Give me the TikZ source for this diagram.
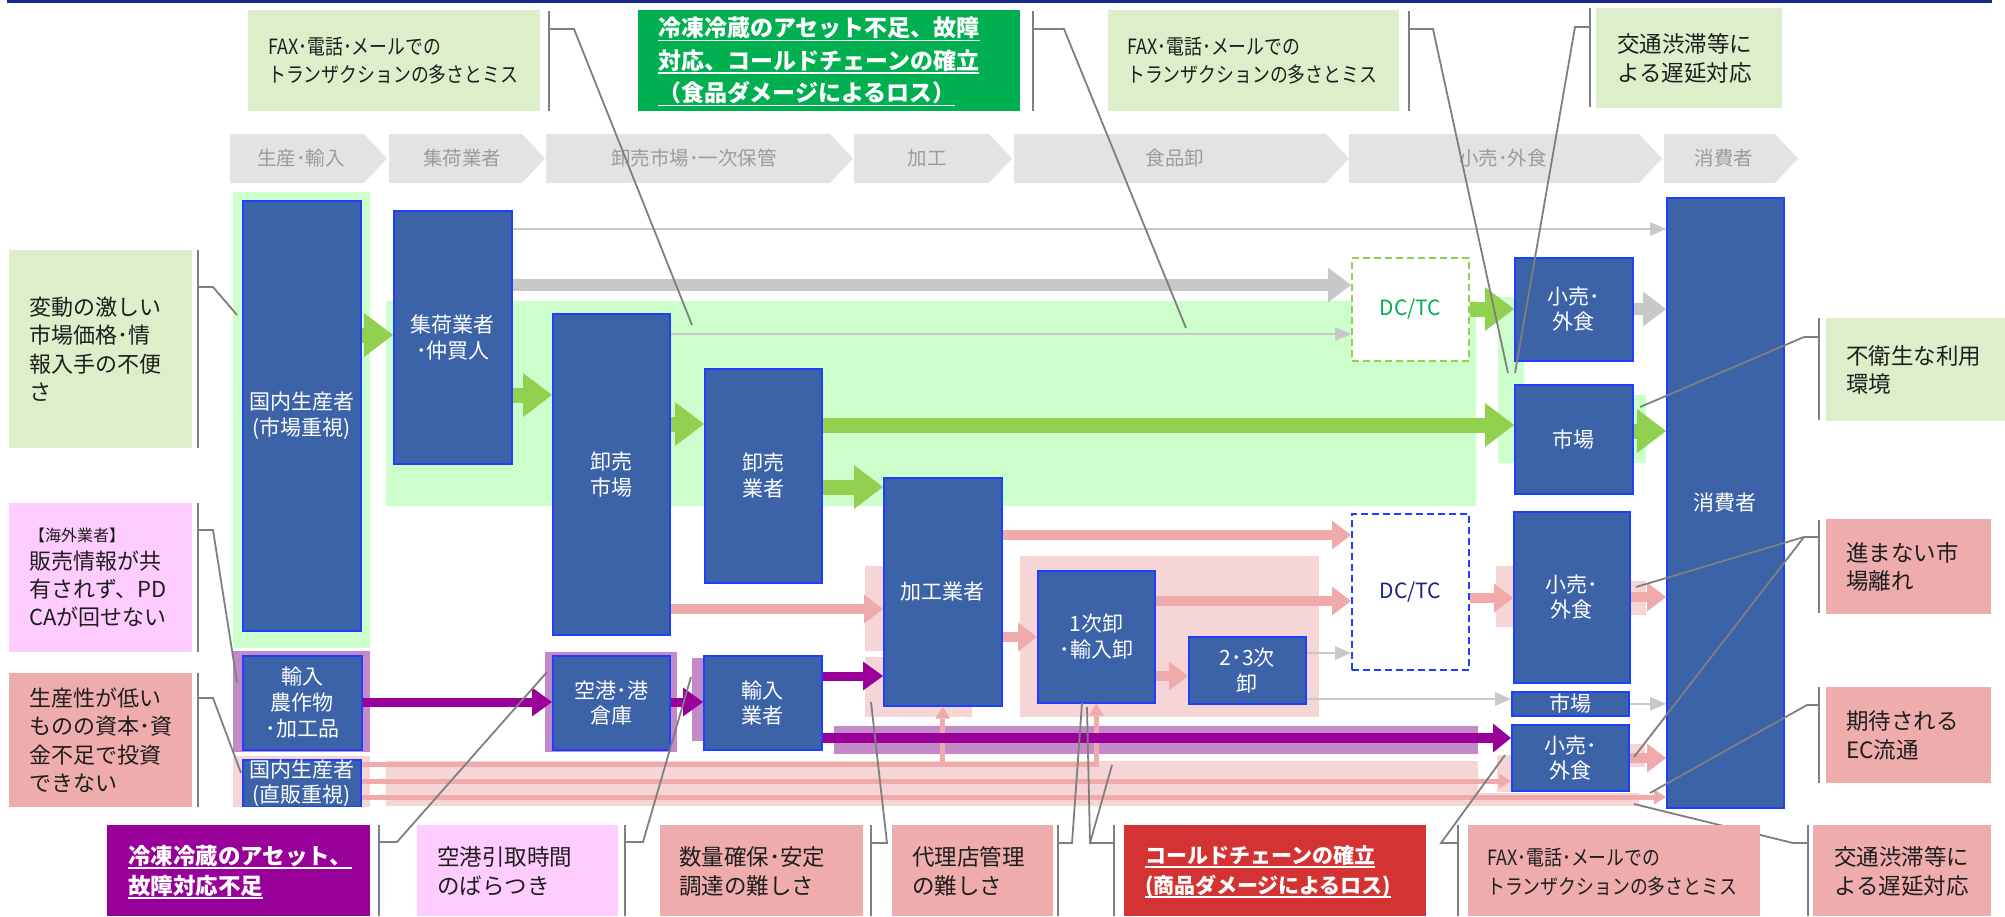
\documentclass[tikz,border=0pt]{standalone}
\usepackage{fontspec}
\setmainfont{Noto Sans CJK JP}
\newfontfamily\narrowjp[FakeStretch=0.85]{Noto Sans CJK JP}
\usetikzlibrary{arrows.meta}
\newcommand\fs[2]{\fontsize{#1}{#2}\selectfont}
\newsavebox\myulbox
\newcommand\myul[1]{\sbox\myulbox{#1}\rlap{\rule[-4.5pt]{\wd\myulbox}{1.6pt}}\usebox\myulbox}
\definecolor{nodefill}{HTML}{3C63A8}
\definecolor{nodeborder}{HTML}{1F3FFF}
\definecolor{lgreen}{HTML}{CCFFCC}
\definecolor{cgreen}{HTML}{DDEFCA}
\definecolor{dgreen}{HTML}{00AF50}
\definecolor{cpink}{HTML}{FFCCFF}
\definecolor{salmon}{HTML}{EFACAC}
\definecolor{cred}{HTML}{D43333}
\definecolor{purp}{HTML}{990099}
\definecolor{lpurp}{HTML}{C48AC8}
\definecolor{lpink}{HTML}{F5D5D5}
\definecolor{parr}{HTML}{EFABAB}
\definecolor{garr}{HTML}{92D050}
\definecolor{gyarr}{HTML}{C8C8C8}
\definecolor{chev}{HTML}{E3E3E3}
\definecolor{chevtext}{HTML}{9C9C9C}
\definecolor{calline}{HTML}{7F7F7F}
\definecolor{navyline}{HTML}{1A2A8A}
\definecolor{dcblue}{HTML}{1F3FFF}
\definecolor{dctext}{HTML}{1A237E}
\definecolor{ctextc}{HTML}{1E1E1E}
\tikzset{
  nd/.style={rectangle, fill=nodefill, draw=nodeborder, line width=1.6pt, text=white,
    font=\fs{21}{26}, align=center, inner sep=0pt, anchor=north west},
  dcbox/.style={rectangle, fill=white, line width=2pt, dash pattern=on 7pt off 4pt,
    inner sep=0pt, anchor=north west, font=\fs{21}{25}},
  cbox/.style={rectangle, inner sep=0pt, anchor=north west},
  ctext/.style={anchor=west, align=left, inner sep=0pt, text=ctextc, font=\fs{22.5}{28.5}},
  wtext/.style={anchor=west, align=left, inner sep=0pt, text=white},
  cline/.style={draw=calline, line width=1.8pt},
  chevtxt/.style={text=chevtext, font=\fs{19.5}{22}, inner sep=0pt},
  garrow/.style={draw=garr, line width=15pt, -{Triangle[length=29pt,width=44pt,line width=0pt]}},
  gythin/.style={draw=gyarr, line width=2.5pt, -{Triangle[length=16pt,width=14pt,line width=0pt]}},
  gythick/.style={draw=gyarr, line width=12pt, -{Triangle[length=23pt,width=35pt,line width=0pt]}},
  pk/.style={draw=parr, line width=10pt, -{Triangle[length=19pt,width=29pt,line width=0pt]}},
  pkthin/.style={draw=parr, line width=5pt, -{Triangle[length=12pt,width=15pt,line width=0pt]}},
  pu/.style={draw=purp, line width=9pt, -{Triangle[length=20pt,width=29pt,line width=0pt]}},
  pubig/.style={draw=purp, line width=10pt, -{Triangle[length=18pt,width=29pt,line width=0pt]}},
}
\begin{document}
\begin{tikzpicture}[x=1pt, y=-1pt, line join=miter]
\useasboundingbox (0,0) rectangle (2005,916);
% top rule
\draw[navyline, line width=2.5pt] (7,1.5) -- (1992,1.5);

% chevrons
\fill[chev] (230,134) -- (364,134) -- (387,158.5) -- (364,183) -- (230,183) -- cycle;
\fill[chev] (389,134) -- (522,134) -- (545,158.5) -- (522,183) -- (389,183) -- cycle;
\fill[chev] (546,134) -- (830,134) -- (853,158.5) -- (830,183) -- (546,183) -- cycle;
\fill[chev] (854,134) -- (989,134) -- (1012,158.5) -- (989,183) -- (854,183) -- cycle;
\fill[chev] (1014,134) -- (1326,134) -- (1349,158.5) -- (1326,183) -- (1014,183) -- cycle;
\fill[chev] (1349,134) -- (1639,134) -- (1662,158.5) -- (1639,183) -- (1349,183) -- cycle;
\fill[chev] (1664,134) -- (1775,134) -- (1798,158.5) -- (1775,183) -- (1664,183) -- cycle;
\node[chevtxt] (c1) at (301,158.5) {生産･輸入};
\node[chevtxt] (c2) at (462,158.5) {集荷業者};
\node[chevtxt] (c3) at (694,158.5) {卸売市場･一次保管};
\node[chevtxt] (c4) at (927,158.5) {加工};
\node[chevtxt] (c5) at (1175,158.5) {食品卸};
\node[chevtxt] (c6) at (1503,158.5) {小売･外食};
\node[chevtxt] (c7) at (1724,158.5) {消費者};

% background bands
\fill[lgreen] (233,192) rectangle (370,648);
\fill[lgreen] (386,301) rectangle (1476,506);
\fill[lgreen] (1498,297) rectangle (1524,463);
\fill[lgreen] (1633,395) rectangle (1646,463);
\fill[lpurp] (233,651) rectangle (370,752);
\fill[lpink] (233,756) rectangle (370,807);
\fill[lpurp] (545,652) rectangle (677,752);
\fill[lpurp] (692,658) rectangle (760,741);
\fill[lpink] (865,566) rectangle (1001,651);
\fill[lpink] (865,657) rectangle (972,717);
\fill[lpink] (1020,556) rectangle (1319,717);
\fill[lpurp] (834,726) rectangle (1478,754);
\fill[lpink] (386,761) rectangle (1478,806);
\fill[lpink] (1478,793) rectangle (1639,806);
\fill[lpink] (1496,566) rectangle (1513,627);
\fill[lpink] (1629,581) rectangle (1646,615);
\fill[lpink] (1497,755) rectangle (1511,792);
\fill[lpink] (1628,744) rectangle (1645,767);

% main nodes
\node[nd, minimum width=118pt, minimum height=430pt] (kokunai) at (242,200) {国内生産者\\(市場重視)};
\node[nd, minimum width=118pt, minimum height=253pt] (shuka) at (393,210) {集荷業者\\･仲買人};
\node[nd, minimum width=117pt, minimum height=321pt] (ichiba) at (552,313) {卸売\\市場};
\node[nd, minimum width=117pt, minimum height=214pt] (gyosha) at (704,368) {卸売\\業者};
\node[nd, minimum width=118pt, minimum height=228pt] (kakou) at (883,477) {加工業者};
\node[nd, minimum width=117pt, minimum height=132pt] (ichiji) at (1037,570) {1次卸\\･輸入卸};
\node[nd, minimum width=117pt, minimum height=67pt] (niji) at (1188,636) {2･3次\\卸};
\node[dcbox, draw=garr, text=dgreen, minimum width=117pt, minimum height=103pt] (dc1) at (1351,257) {DC/TC};
\node[dcbox, draw=dcblue, text=dctext, minimum width=117pt, minimum height=156pt] (dc2) at (1351,513) {DC/TC};
\node[nd, minimum width=118pt, minimum height=103pt, font=\fs{21}{25}] (kouri1) at (1514,257) {小売･\\外食};
\node[nd, minimum width=118pt, minimum height=109pt] (shijo1) at (1514,384) {市場};
\node[nd, minimum width=116pt, minimum height=171pt, font=\fs{21}{25}] (kouri2) at (1513,511) {小売･\\外食};
\node[nd, minimum width=117pt, minimum height=24pt] (shijo2) at (1511,691) {市場};
\node[nd, minimum width=117pt, minimum height=66pt, font=\fs{21}{25}] (kouri3) at (1511,724) {小売･\\外食};
\node[nd, minimum width=117pt, minimum height=610pt] (shohisha) at (1666,197) {消費者};
\node[nd, minimum width=119pt, minimum height=94pt] (nousaku) at (242,655) {輸入\\農作物\\･加工品};
\node[nd, minimum width=118pt, minimum height=45pt, font=\fs{21}{25}] (chokuhan) at (242,759) {国内生産者\\(直販重視)};
\node[nd, minimum width=117pt, minimum height=94pt, font=\fs{21}{25}] (kuko) at (552,655) {空港･港\\倉庫};
\node[nd, minimum width=118pt, minimum height=94pt, font=\fs{21}{25}] (yunyu) at (703,655) {輸入\\業者};

% green flows
\draw[garrow] (kokunai.east |- 0,335) -- (shuka.west |- 0,335);
\draw[garrow] (shuka.east |- 0,395) -- (ichiba.west |- 0,395);
\draw[garrow] (ichiba.east |- 0,424) -- (gyosha.west |- 0,424);
\draw[garrow] (gyosha.east |- 0,487) -- (kakou.west |- 0,487);
\draw[garrow] (gyosha.east |- 0,425) -- (shijo1.west |- 0,425);
\draw[garrow] (shijo1.east |- 0,431) -- (shohisha.west |- 0,431);
\draw[garrow] (dc1.east |- 0,309) -- (kouri1.west |- 0,309);
% gray flows
\draw[gythin] (shuka.east |- 0,229) -- (shohisha.west |- 0,229);
\draw[gythick] (shuka.east |- 0,285) -- (dc1.west |- 0,285);
\draw[gythin] (ichiba.east |- 0,334) -- (dc1.west |- 0,334);
\draw[gythick] (kouri1.east |- 0,309) -- (shohisha.west |- 0,309);
\draw[gythin] (niji.east |- 0,653) -- (dc2.west |- 0,653);
\draw[gythin] (niji.east |- 0,699) -- (shijo2.west |- 0,699);
\draw[gythin] (shijo2.east) -- (shohisha.west |- shijo2.east);
% pink flows
\draw[pk] (ichiba.east |- 0,609) -- (kakou.west |- 0,609);
\draw[pk] (kakou.east |- 0,535) -- (dc2.west |- 0,535);
\draw[pk] (kakou.east |- 0,637) -- (ichiji.west |- 0,637);
\draw[pk] (ichiji.east |- 0,601) -- (dc2.west |- 0,601);
\draw[pk] (ichiji.east |- 0,676) -- (niji.west |- 0,676);
\draw[pk] (dc2.east |- 0,598) -- (kouri2.west |- 0,598);
\draw[pk] (kouri2.east |- 0,597) -- (shohisha.west |- 0,597);
\draw[pk] (kouri3.east |- 0,758) -- (shohisha.west |- 0,758);
\draw[pkthin] (chokuhan.east |- 0,764) -| (ichiji.south);
\draw[pkthin] (kakou.south |- 0,764) -- (kakou.south);
\draw[pkthin] (chokuhan.east |- 0,781) -- (kouri3.west |- 0,781);
\draw[pkthin] (chokuhan.east |- 0,797) -- (shohisha.west |- 0,797);
% purple flows
\draw[pu] (nousaku.east |- 0,702) -- (kuko.west |- 0,702);
\draw[pu] (kuko.east |- 0,702) -- (yunyu.west |- 0,702);
\draw[pu] (yunyu.east |- 0,676) -- (kakou.west |- 0,676);
\draw[pubig] (yunyu.east |- 0,738) -- (kouri3.west |- 0,738);

% callout leader lines
\coordinate (e1) at (692,325);   \coordinate (e2) at (1186,328);
\coordinate (e3) at (1508,373);  \coordinate (e4) at (1515,373);
\coordinate (e5) at (237,315);   \coordinate (e6) at (237,682);
\coordinate (e7) at (241,773);   \coordinate (e8) at (547,672);
\coordinate (e9) at (691,677);   \coordinate (e10) at (871,702);
\coordinate (e11) at (1082,703); \coordinate (e12) at (1087,707);
\coordinate (e13) at (1112,765); \coordinate (e14) at (1505,755);
\coordinate (e15) at (1634,804); \coordinate (e16) at (1640,407);
\coordinate (e17) at (1636,587); \coordinate (e18) at (1634,757);
\coordinate (e19) at (1650,793);
\draw[cline] (549,11) -- (549,111);   \draw[cline] (549,29) -- (574,29) -- (e1);
\draw[cline] (1033,11) -- (1033,111); \draw[cline] (1033,29) -- (1064,29) -- (e2);
\draw[cline] (1409,11) -- (1409,111); \draw[cline] (1409,29) -- (1433,29) -- (e3);
\draw[cline] (1590,8) -- (1590,107);  \draw[cline] (1590,27) -- (1575,27) -- (e4);
\draw[cline] (198,250) -- (198,448);  \draw[cline] (198,287) -- (213,287) -- (e5);
\draw[cline] (198,503) -- (198,652);  \draw[cline] (198,530) -- (213,530) -- (e6);
\draw[cline] (198,673) -- (198,807);  \draw[cline] (198,698) -- (213,698) -- (e7);
\draw[cline] (379,825) -- (379,916);  \draw[cline] (379,842) -- (397,842) -- (e8);
\draw[cline] (625,825) -- (625,916);  \draw[cline] (625,842) -- (643,842) -- (e9);
\draw[cline] (871,825) -- (871,916);  \draw[cline] (871,843) -- (887,843) -- (e10);
\draw[cline] (1058,825) -- (1058,916); \draw[cline] (1058,843) -- (1072,843) -- (e11);
\draw[cline] (1114,825) -- (1114,916); \draw[cline] (1114,843) -- (1090,843) -- (e12);
\draw[cline] (1090,843) -- (e13);
\draw[cline] (1458,825) -- (1458,916); \draw[cline] (1458,843) -- (1441,843) -- (e14);
\draw[cline] (1808,825) -- (1808,916); \draw[cline] (1808,843) -- (1793,843) -- (e15);
\draw[cline] (1819,318) -- (1819,420); \draw[cline] (1819,337) -- (1804,337) -- (e16);
\draw[cline] (1819,520) -- (1819,613); \draw[cline] (1819,537) -- (1804,537) -- (e17);
\draw[cline] (1804,537) -- (e18);
\draw[cline] (1819,687) -- (1819,783); \draw[cline] (1819,705) -- (1807,705) -- (e19);

% callout boxes - top
\node[cbox, fill=cgreen, minimum width=292pt, minimum height=101pt] (t1) at (248,10) {};
\node[ctext, font=\narrowjp\fs{21}{28}] (t1t) at ([xshift=20pt]t1.west) {FAX･電話･メールでの\\トランザクションの多さとミス};
\node[cbox, fill=dgreen, minimum width=382pt, minimum height=101pt] (t2) at (638,10) {};
\node[wtext, font=\bfseries\fs{23}{32.5}] (t2t) at ([xshift=20pt,yshift=-1pt]t2.west) {\myul{冷凍冷蔵のアセット不足、故障}\\\myul{対応、コールドチェーンの確立}\\\myul{（食品ダメージによるロス）}};
\node[cbox, fill=cgreen, minimum width=291pt, minimum height=101pt] (t3) at (1108,10) {};
\node[ctext, font=\narrowjp\fs{21}{28}] (t3t) at ([xshift=19pt]t3.west) {FAX･電話･メールでの\\トランザクションの多さとミス};
\node[cbox, fill=cgreen, minimum width=186pt, minimum height=100pt] (t4) at (1596,8) {};
\node[ctext] (t4t) at ([xshift=21pt]t4.west) {交通渋滞等に\\よる遅延対応};
% left
\node[cbox, fill=cgreen, minimum width=183pt, minimum height=198pt] (l1) at (9,250) {};
\node[ctext, font=\fs{22}{28.5}] (l1t) at ([xshift=20pt]l1.west) {変動の激しい\\市場価格･情\\報入手の不便\\さ};
\node[cbox, fill=cpink, minimum width=183pt, minimum height=149pt] (l2) at (9,503) {};
\node[ctext, font=\fs{22}{28}] (l2t) at ([xshift=20pt]l2.west) {{\fs{16}{20}【海外業者】}\\販売情報が共\\有されず、PD\\CAが回せない};
\node[cbox, fill=salmon, minimum width=183pt, minimum height=134pt] (l3) at (9,673) {};
\node[ctext, font=\fs{22}{28.5}] (l3t) at ([xshift=20pt]l3.west) {生産性が低い\\ものの資本･資\\金不足で投資\\できない};
% bottom
\node[cbox, fill=purp, minimum width=263pt, minimum height=91pt] (b1) at (107,825) {};
\node[wtext, font=\bfseries\fs{22.5}{30}] (b1t) at ([xshift=21pt,yshift=-1pt]b1.west) {\myul{冷凍冷蔵のアセット、}\\\myul{故障対応不足}};
\node[cbox, fill=cpink, minimum width=201pt, minimum height=91pt] (b2) at (417,825) {};
\node[ctext, font=\fs{22.5}{29}] (b2t) at ([xshift=20pt,yshift=-1pt]b2.west) {空港引取時間\\のばらつき};
\node[cbox, fill=salmon, minimum width=203pt, minimum height=91pt] (b3) at (660,825) {};
\node[ctext, font=\fs{22.5}{29}] (b3t) at ([xshift=19pt,yshift=-1pt]b3.west) {数量確保･安定\\調達の難しさ};
\node[cbox, fill=salmon, minimum width=161pt, minimum height=91pt] (b4) at (892,825) {};
\node[ctext, font=\fs{22.5}{29}] (b4t) at ([xshift=20pt,yshift=-1pt]b4.west) {代理店管理\\の難しさ};
\node[cbox, fill=cred, minimum width=302pt, minimum height=91pt] (b5) at (1124,825) {};
\node[wtext, font=\bfseries\fs{21}{30}] (b5t) at ([xshift=21pt,yshift=-1pt]b5.west) {\myul{コールドチェーンの確立}\\\myul{(商品ダメージによるロス)}};
\node[cbox, fill=salmon, minimum width=292pt, minimum height=91pt] (b6) at (1468,825) {};
\node[ctext, font=\narrowjp\fs{21}{29}] (b6t) at ([xshift=19pt,yshift=-1pt]b6.west) {FAX･電話･メールでの\\トランザクションの多さとミス};
\node[cbox, fill=salmon, minimum width=178pt, minimum height=91pt] (b7) at (1813,825) {};
\node[ctext, font=\fs{22.5}{29}] (b7t) at ([xshift=21pt,yshift=-1pt]b7.west) {交通渋滞等に\\よる遅延対応};
% right
\node[cbox, fill=cgreen, minimum width=179pt, minimum height=103pt] (r1) at (1826,318) {};
\node[ctext] (r1t) at ([xshift=20pt]r1.west) {不衛生な利用\\環境};
\node[cbox, fill=salmon, minimum width=165pt, minimum height=95pt] (r2) at (1826,519) {};
\node[ctext] (r2t) at ([xshift=20pt]r2.west) {進まない市\\場離れ};
\node[cbox, fill=salmon, minimum width=165pt, minimum height=96pt] (r3) at (1826,687) {};
\node[ctext] (r3t) at ([xshift=20pt]r3.west) {期待される\\EC流通};
\end{tikzpicture}
\end{document}
